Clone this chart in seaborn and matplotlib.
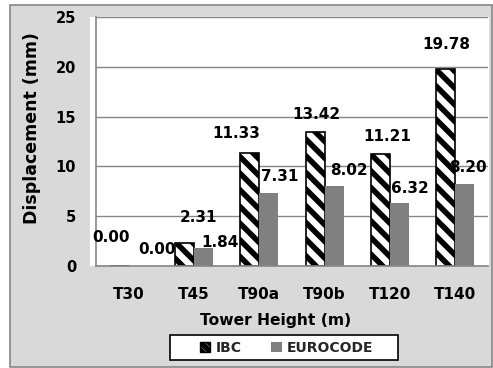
import matplotlib
matplotlib.use("Agg")
import matplotlib.pyplot as plt
from matplotlib.patches import Rectangle, Patch
import seaborn as sns
import pandas as pd

# ---- data ----
towers = ["T30", "T45", "T90a", "T90b", "T120", "T140"]
ibc = [0.00, 2.31, 11.33, 13.42, 11.21, 19.78]
eurocode = [0.00, 1.84, 7.31, 8.02, 6.32, 8.20]
series_names = ["IBC", "EUROCODE"]
y_ticks = [0, 5, 10, 15, 20, 25]

# label offsets in pixels (dx, dy) relative to bar-top centre (style only)
ibc_off = [(-8, 29), (14, 25), (-14, 20), (1, 18), (7, 18), (0, 24)]
euro_off = [(19, 16), (17, 5), (11, 17), (15, 16), (10, 14.5), (3, 17)]

df = pd.DataFrame({
    "tower": towers * 2,
    "disp": ibc + eurocode,
    "code": [series_names[0]] * len(towers) + [series_names[1]] * len(towers),
})

sns.set_theme(style="white")
plt.rcParams["font.family"] = ["DejaVu Sans"]
plt.rcParams["font.weight"] = "bold"
plt.rcParams["hatch.linewidth"] = 4.0
plt.rcParams["hatch.color"] = "black"

W, H = 493, 368
fig = plt.figure(figsize=(W / 100, H / 100), dpi=100)
fig.patch.set_facecolor("white")

# chart area (gray), plot area (white), legend box
fig.add_artist(Rectangle((10 / W, 1 / H), 482 / W, 362 / H, transform=fig.transFigure,
                         facecolor="#d9d9d9", edgecolor="#868686", lw=1.2, zorder=-3))
fig.add_artist(Rectangle((90 / W, (H - 266) / H), 399 / W, 249 / H, transform=fig.transFigure,
                         facecolor="white", edgecolor="none", zorder=-2))
fig.add_artist(Rectangle((170 / W, (H - 360) / H), 228 / W, 25 / H, transform=fig.transFigure,
                         facecolor="white", edgecolor="black", lw=1.2, zorder=-1))

ax = fig.add_axes([96 / W, (H - 266) / H, 392 / W, 249 / H])
ax.set_facecolor("none")

sns.barplot(data=df, x="tower", y="disp", hue="code",
            palette={"IBC": "white", "EUROCODE": "#808080"},
            width=0.58, gap=0, ax=ax, legend=False, saturation=1)

ibc_bars, euro_bars = ax.containers[0], ax.containers[1]
for b in ibc_bars:
    b.set_facecolor("white")
    b.set_edgecolor("black")
    b.set_linewidth(1.2)
    b.set_hatch("\\\\")
for b in euro_bars:
    b.set_edgecolor("none")

pt = 72 / 100
for bars, vals, offs in ((ibc_bars, ibc, ibc_off), (euro_bars, eurocode, euro_off)):
    for b, v, (dx, dy) in zip(bars, vals, offs):
        ax.annotate(f"{v:.2f}", xy=(b.get_x() + b.get_width() / 2, b.get_height()),
                    xytext=(dx * pt, dy * pt), textcoords="offset points",
                    ha="center", va="center", fontsize=11, fontweight="bold",
                    color="black", annotation_clip=False)

ax.set_ylim(0, 25)
ax.set_xlim(-0.5, len(towers) - 0.5)
ax.set_yticks(y_ticks)
ax.set_yticklabels([str(t) for t in y_ticks], fontsize=10.5, fontweight="bold")
ax.yaxis.grid(True, color="#868686", lw=1)
ax.set_axisbelow(True)
for s in ("top", "right"):
    ax.spines[s].set_visible(False)
for s in ("left", "bottom"):
    ax.spines[s].set_color("#868686")
    ax.spines[s].set_linewidth(1.2)

ax.tick_params(axis="y", which="major", direction="out", length=4.3, width=1,
               color="#868686", pad=10, labelcolor="black")
ax.tick_params(axis="x", which="major", length=0, pad=15, labelsize=11, labelcolor="black")
for lab in ax.get_xticklabels():
    lab.set_fontweight("bold")
ax.set_xticks([i - 0.5 for i in range(len(towers) + 1)], minor=True)
ax.tick_params(axis="x", which="minor", direction="out", length=3.6, width=1, color="#868686")

ax.set_xlabel("Tower Height (m)", fontsize=11.2, fontweight="bold", color="black", va="center")
ax.set_ylabel("Displacement (mm)", fontsize=12.5, fontweight="bold", color="black", va="center")
ax.xaxis.set_label_coords(0.459, -0.217)
ax.yaxis.set_label_coords(-0.163, 0.554)

handles = [Patch(facecolor="white", edgecolor="black", hatch="\\\\\\\\", lw=1, label="IBC"),
           Patch(facecolor="#808080", edgecolor="none", label="EUROCODE")]
leg = ax.legend(handles=handles, loc="center", bbox_to_anchor=(0.486, -0.329), ncol=2,
                frameon=False, handlelength=0.75, handleheight=0.75, handletextpad=0.36,
                columnspacing=2.16, borderpad=0.2, prop={"weight": "bold", "size": 10})

fig.savefig("out.png", dpi=100)
